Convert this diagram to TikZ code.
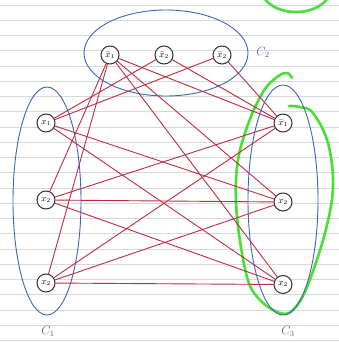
\documentclass[tikz,border=0pt]{standalone}
\usetikzlibrary{calc}
\definecolor{edgered}{RGB}{190,44,64}
\definecolor{clblue}{RGB}{62,102,178}
\definecolor{hlgreen}{RGB}{72,224,52}
\definecolor{ruleline}{RGB}{216,216,220}
\definecolor{nodeline}{RGB}{50,50,50}
\begin{document}
\begin{tikzpicture}[x=1pt,y=-1pt,
  lit/.style={circle,draw=nodeline,fill=white,line width=1pt,minimum size=18pt,inner sep=0pt,font=\small},
  link/.style={draw=edgered,line width=0.9pt},
  clause/.style={draw=clblue,line width=0.9pt},
  cname/.style={text=clblue,font=\large},
  greenmark/.style={draw=hlgreen,line width=2.6pt,line cap=round,line join=round}]
\useasboundingbox (0,0) rectangle (339,343);
\fill[white] (0,0) rectangle (339,343);
% ruled paper
\foreach \k in {0,...,22} {
  \draw[ruleline,line width=0.8pt] (0,{5+15.25*\k}) -- (339,{5+15.25*\k});
}
% green highlights
\begin{scope}
\clip (0,0) rectangle (339,343);
\draw[greenmark] (296,-12) ellipse [x radius=35, y radius=24];
\end{scope}
\draw[greenmark] plot[smooth,tension=0.6] coordinates {(292,78) (287,73) (277,77) (263,92) (247,127) (237,167) (237,217) (247,277) (260,300) (280,313) (293,310) (307,287) (325,233) (333,187) (328,143) (313,113) (300,107) (289,106)};
% clause ellipses
\draw[clause] (166,53) ellipse [x radius=82, y radius=43];
\draw[clause] (47,201) ellipse [x radius=34, y radius=114];
\draw[clause] (283,200) ellipse [x radius=35, y radius=115];
\node[cname] (c2) at (263,52) {$C_2$};
\node[cname] (c1) at (48,331) {$C_1$};
\node[cname] (c3) at (288,331) {$C_3$};
% literal nodes
\node[lit] (t1) at (110,55) {$\bar{x}_1$};
\node[lit] (t2) at (164,55) {$\bar{x}_2$};
\node[lit] (t3) at (222,55) {$\bar{x}_2$};
\node[lit] (l1) at (46,123) {$x_1$};
\node[lit] (l2) at (46,200) {$x_2$};
\node[lit] (l3) at (46,283) {$x_2$};
\node[lit] (r1) at (283,123) {$\bar{x}_1$};
\node[lit] (r2) at (283,202) {$x_2$};
\node[lit] (r3) at (283,284.5) {$x_2$};
% edges
\foreach \a/\b in {l1/t2,l1/t3,l2/t1,l3/t1,
                   l1/r2,l1/r3,l2/r1,l3/r1,l2/r2,l2/r3,l3/r2,l3/r3,
                   t1/r1,t1/r2,t1/r3,t2/r1,t3/r1} {
  \draw[link] (\a) -- (\b);
}
\end{tikzpicture}
\end{document}
